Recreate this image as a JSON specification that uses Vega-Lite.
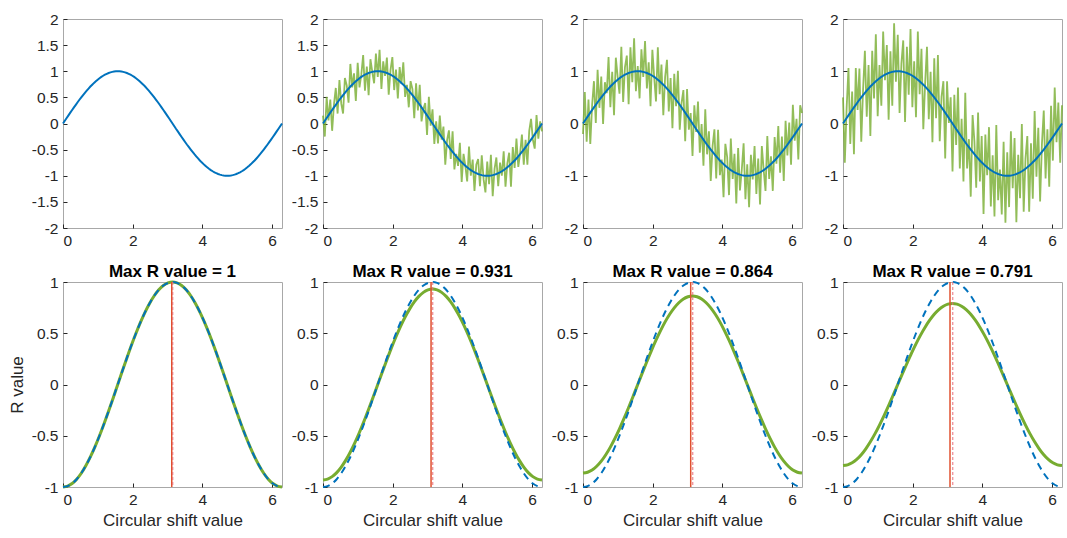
{
"$schema": "https://vega.github.io/schema/vega-lite/v6.json",
"autosize": {"type": "none"},
"padding": {"left": 63, "top": 19, "right": 1004, "bottom": 519},
"background": "white",
"config": {
  "font": "Liberation Sans",
  "view": {"stroke": "#A8A8A8", "strokeWidth": 1},
  "axis": {"grid": false, "domain": false, "tickColor": "#262626", "tickSize": -4, "labelFontSize": 15.5, "labelColor": "#262626", "labelFont": "Liberation Sans", "labelPadding": 9, "titleFont": "Liberation Sans", "titleFontSize": 17, "titleFontWeight": "normal", "titleColor": "#262626", "titlePadding": 5},
  "title": {"font": "Liberation Sans", "fontSize": 17, "fontWeight": "bold", "color": "#000000", "offset": -6}
},
"datasets": {
"top": [
{"x":0,"s":0,"n2":0.15,"n3":-0.2,"n4":0.5},
{"x":0.052,"s":0.052,"n2":-0.25,"n3":0.6,"n4":-0.75},
{"x":0.105,"s":0.105,"n2":0.51,"n3":-0.35,"n4":0.31},
{"x":0.157,"s":0.156,"n2":0.06,"n3":0.46,"n4":1.06},
{"x":0.209,"s":0.208,"n2":0.46,"n3":-0.39,"n4":-0.39},
{"x":0.262,"s":0.259,"n2":-0.14,"n3":0.36,"n4":0.61},
{"x":0.314,"s":0.309,"n2":0.36,"n3":0.81,"n4":-0.59},
{"x":0.367,"s":0.358,"n2":0.68,"n3":0.01,"n4":1.06},
{"x":0.419,"s":0.407,"n2":0.19,"n3":1.03,"n4":0.26},
{"x":0.471,"s":0.454,"n2":0.83,"n3":0.3,"n4":1.05},
{"x":0.524,"s":0.5,"n2":0.38,"n3":0.9,"n4":-0.35},
{"x":0.576,"s":0.545,"n2":0.19,"n3":-0.01,"n4":0.65},
{"x":0.628,"s":0.588,"n2":0.87,"n3":0.79,"n4":1.39},
{"x":0.681,"s":0.629,"n2":0.73,"n3":0.58,"n4":0.13},
{"x":0.733,"s":0.669,"n2":0.4,"n3":1.27,"n4":1.12},
{"x":0.785,"s":0.707,"n2":1.14,"n3":0.31,"n4":-0.24},
{"x":0.838,"s":0.743,"n2":0.69,"n3":0.99,"n4":1.39},
{"x":0.89,"s":0.777,"n2":0.96,"n3":0.16,"n4":0.48},
{"x":0.942,"s":0.809,"n2":0.43,"n3":1.26,"n4":1.71},
{"x":0.995,"s":0.839,"n2":1.16,"n3":0.89,"n4":0.14},
{"x":1.047,"s":0.866,"n2":0.69,"n3":0.57,"n4":1.12},
{"x":1.1,"s":0.891,"n2":0.94,"n3":1.47,"n4":0.34},
{"x":1.152,"s":0.914,"n2":1.31,"n3":0.41,"n4":1.76},
{"x":1.204,"s":0.934,"n2":0.63,"n3":1.08,"n4":0.83},
{"x":1.257,"s":0.951,"n2":1.09,"n3":1.3,"n4":1.5},
{"x":1.309,"s":0.966,"n2":0.54,"n3":0.37,"n4":0.07},
{"x":1.361,"s":0.978,"n2":1.23,"n3":1.46,"n4":1.38},
{"x":1.414,"s":0.988,"n2":0.99,"n3":0.79,"n4":0.34},
{"x":1.466,"s":0.995,"n2":0.77,"n3":1.63,"n4":1.92},
{"x":1.518,"s":0.999,"n2":1.34,"n3":0.62,"n4":0.8},
{"x":1.571,"s":1,"n2":0.89,"n3":1.1,"n4":1.7},
{"x":1.623,"s":0.999,"n2":1.41,"n3":0.48,"n4":0.2},
{"x":1.676,"s":0.995,"n2":0.66,"n3":1.42,"n4":1.15},
{"x":1.728,"s":0.988,"n2":1.19,"n3":0.89,"n4":1.59},
{"x":1.78,"s":0.978,"n2":0.91,"n3":1.58,"n4":0.03},
{"x":1.833,"s":0.966,"n2":1.26,"n3":0.67,"n4":1.47},
{"x":1.885,"s":0.951,"n2":0.55,"n3":1.17,"n4":0.55},
{"x":1.937,"s":0.934,"n2":1.02,"n3":0.33,"n4":1.81},
{"x":1.99,"s":0.914,"n2":1.27,"n3":1.41,"n4":0.31},
{"x":2.042,"s":0.891,"n2":0.64,"n3":0.89,"n4":1.19},
{"x":2.094,"s":0.866,"n2":1.03,"n3":0.42,"n4":0.12},
{"x":2.147,"s":0.839,"n2":0.48,"n3":1.46,"n4":1.76},
{"x":2.199,"s":0.809,"n2":1.08,"n3":0.56,"n4":0.56},
{"x":2.251,"s":0.777,"n2":0.76,"n3":1.13,"n4":1.43},
{"x":2.304,"s":0.743,"n2":1.17,"n3":0.16,"n4":-0.11},
{"x":2.356,"s":0.707,"n2":0.51,"n3":0.89,"n4":0.76},
{"x":2.409,"s":0.669,"n2":0.74,"n3":1.22,"n4":1.47},
{"x":2.461,"s":0.629,"n2":0.31,"n3":0.23,"n4":0.08},
{"x":2.513,"s":0.588,"n2":0.81,"n3":0.87,"n4":0.99},
{"x":2.566,"s":0.545,"n2":0.66,"n3":-0.09,"n4":-0.36},
{"x":2.618,"s":0.5,"n2":0.1,"n3":0.95,"n4":1.25},
{"x":2.67,"s":0.454,"n2":0.77,"n3":0.33,"n4":0.1},
{"x":2.723,"s":0.407,"n2":0.25,"n3":1.01,"n4":1.31},
{"x":2.775,"s":0.358,"n2":0.74,"n3":-0.12,"n4":-0.34},
{"x":2.827,"s":0.309,"n2":0.04,"n3":0.39,"n4":0.51},
{"x":2.88,"s":0.259,"n2":0.28,"n3":0.64,"n4":0.81},
{"x":2.932,"s":0.208,"n2":0.39,"n3":-0.34,"n4":-0.67},
{"x":2.985,"s":0.156,"n2":-0.22,"n3":0.66,"n4":0.81},
{"x":3.037,"s":0.105,"n2":0.51,"n3":-0.12,"n4":0.01},
{"x":3.089,"s":0.052,"n2":-0.04,"n3":0.2,"n4":0.5},
{"x":3.142,"s":0,"n2":0.27,"n3":-0.62,"n4":-0.92},
{"x":3.194,"s":-0.052,"n2":-0.39,"n3":0.35,"n4":0.55},
{"x":3.246,"s":-0.105,"n2":0.04,"n3":-0.16,"n4":-0.41},
{"x":3.299,"s":-0.156,"n2":-0.38,"n3":0.42,"n4":0.69},
{"x":3.351,"s":-0.208,"n2":0.15,"n3":-0.56,"n4":-0.86},
{"x":3.403,"s":-0.259,"n2":-0.31,"n3":-0.01,"n4":0.09},
{"x":3.456,"s":-0.309,"n2":-0.06,"n3":-0.81,"n4":-1.11},
{"x":3.508,"s":-0.358,"n2":-0.79,"n3":0.27,"n4":0.59},
{"x":3.56,"s":-0.407,"n2":-0.32,"n3":-0.59,"n4":-0.86},
{"x":3.613,"s":-0.454,"n2":-0.13,"n3":-0.15,"n4":-0.3},
{"x":3.665,"s":-0.5,"n2":-0.68,"n3":-1.1,"n4":-1.4},
{"x":3.718,"s":-0.545,"n2":-0.15,"n3":-0.43,"n4":0.16},
{"x":3.77,"s":-0.588,"n2":-0.88,"n3":-0.11,"n4":-0.34},
{"x":3.822,"s":-0.629,"n2":-0.58,"n3":-1.05,"n4":-1.23},
{"x":3.875,"s":-0.669,"n2":-0.81,"n3":-0.12,"n4":0.21},
{"x":3.927,"s":-0.707,"n2":-0.37,"n3":-0.99,"n4":-1.11},
{"x":3.979,"s":-0.743,"n2":-1.12,"n3":-0.69,"n4":-0.24},
{"x":4.032,"s":-0.777,"n2":-0.58,"n3":-1.41,"n4":-1.73},
{"x":4.084,"s":-0.809,"n2":-0.81,"n3":-0.39,"n4":-0.21},
{"x":4.136,"s":-0.839,"n2":-1.11,"n3":-0.64,"n4":-0.99},
{"x":4.189,"s":-0.866,"n2":-0.44,"n3":-1.37,"n4":-0.07},
{"x":4.241,"s":-0.891,"n2":-1.0,"n3":-0.29,"n4":-1.59},
{"x":4.294,"s":-0.914,"n2":-0.69,"n3":-1.06,"n4":-0.61},
{"x":4.346,"s":-0.934,"n2":-1.29,"n3":-0.58,"n4":-1.78},
{"x":4.398,"s":-0.951,"n2":-0.79,"n3":-1.53,"n4":-0.03},
{"x":4.451,"s":-0.966,"n2":-0.68,"n3":-0.47,"n4":-1.47},
{"x":4.503,"s":-0.978,"n2":-1.2,"n3":-1.28,"n4":-0.88},
{"x":4.555,"s":-0.988,"n2":-0.61,"n3":-0.89,"n4":-1.74},
{"x":4.608,"s":-0.995,"n2":-1.07,"n3":-0.38,"n4":-0.35},
{"x":4.66,"s":-0.999,"n2":-1.32,"n3":-1.45,"n4":-1.9},
{"x":4.712,"s":-1,"n2":-0.73,"n3":-0.78,"n4":-0.55},
{"x":4.765,"s":-0.999,"n2":-1.16,"n3":-1.6,"n4":-1.6},
{"x":4.817,"s":-0.995,"n2":-0.6,"n3":-0.6,"n4":-0.15},
{"x":4.869,"s":-0.988,"n2":-1.39,"n3":-1.07,"n4":-1.24},
{"x":4.922,"s":-0.978,"n2":-0.87,"n3":-0.43,"n4":-0.28},
{"x":4.974,"s":-0.966,"n2":-0.65,"n3":-1.35,"n4":-1.89},
{"x":5.027,"s":-0.951,"n2":-1.2,"n3":-0.67,"n4":-0.6},
{"x":5.079,"s":-0.934,"n2":-0.75,"n3":-1.55,"n4":-1.43},
{"x":5.131,"s":-0.914,"n2":-1.0,"n3":-0.43,"n4":-0.01},
{"x":5.184,"s":-0.891,"n2":-0.53,"n3":-0.89,"n4":-1.69},
{"x":5.236,"s":-0.866,"n2":-1.21,"n3":-1.29,"n4":-0.67},
{"x":5.288,"s":-0.839,"n2":-0.77,"n3":-0.24,"n4":-0.24},
{"x":5.341,"s":-0.809,"n2":-0.56,"n3":-1.06,"n4":-1.69},
{"x":5.393,"s":-0.777,"n2":-1.21,"n3":-0.63,"n4":-0.38},
{"x":5.445,"s":-0.743,"n2":-0.45,"n3":-1.29,"n4":-1.44},
{"x":5.498,"s":-0.707,"n2":-0.85,"n3":-0.26,"n4":0.24},
{"x":5.55,"s":-0.669,"n2":-0.29,"n3":-0.77,"n4":-1.02},
{"x":5.603,"s":-0.629,"n2":-0.83,"n3":-0.05,"n4":-0.08},
{"x":5.655,"s":-0.588,"n2":-0.57,"n3":-0.94,"n4":-1.49},
{"x":5.707,"s":-0.545,"n2":-0.21,"n3":-0.25,"n4":-0.4},
{"x":5.76,"s":-0.5,"n2":-0.79,"n3":-1.1,"n4":0.25},
{"x":5.812,"s":-0.454,"n2":-0.31,"n3":0.05,"n4":-1.05},
{"x":5.864,"s":-0.407,"n2":-0.79,"n3":-0.61,"n4":-0.11},
{"x":5.917,"s":-0.358,"n2":-0.14,"n3":0.02,"n4":-1.21},
{"x":5.969,"s":-0.309,"n2":0.09,"n3":-0.79,"n4":0.34},
{"x":6.021,"s":-0.259,"n2":-0.31,"n3":0.36,"n4":-0.71},
{"x":6.074,"s":-0.208,"n2":-0.48,"n3":-0.33,"n4":0.69},
{"x":6.126,"s":-0.156,"n2":0.16,"n3":0.09,"n4":-0.36},
{"x":6.178,"s":-0.105,"n2":-0.29,"n3":-0.69,"n4":0.4},
{"x":6.231,"s":-0.052,"n2":0.04,"n3":0.35,"n4":-0.75},
{"x":6.283,"s":0,"n2":-0.15,"n3":0.2,"n4":0.35}
],
"bot": [
{"x":0,"b":-1,"g2":-0.931,"g3":-0.864,"g4":-0.791},
{"x":0.131,"b":-0.991,"g2":-0.923,"g3":-0.856,"g4":-0.784},
{"x":0.262,"b":-0.966,"g2":-0.899,"g3":-0.835,"g4":-0.764},
{"x":0.393,"b":-0.924,"g2":-0.86,"g3":-0.798,"g4":-0.731},
{"x":0.524,"b":-0.866,"g2":-0.806,"g3":-0.748,"g4":-0.685},
{"x":0.654,"b":-0.793,"g2":-0.738,"g3":-0.685,"g4":-0.627},
{"x":0.785,"b":-0.707,"g2":-0.658,"g3":-0.611,"g4":-0.559},
{"x":0.916,"b":-0.609,"g2":-0.567,"g3":-0.526,"g4":-0.482},
{"x":1.047,"b":-0.5,"g2":-0.466,"g3":-0.432,"g4":-0.396},
{"x":1.178,"b":-0.383,"g2":-0.357,"g3":-0.331,"g4":-0.303},
{"x":1.309,"b":-0.259,"g2":-0.241,"g3":-0.224,"g4":-0.205},
{"x":1.44,"b":-0.131,"g2":-0.122,"g3":-0.113,"g4":-0.104},
{"x":1.571,"b":0,"g2":0,"g3":0,"g4":0},
{"x":1.702,"b":0.131,"g2":0.122,"g3":0.113,"g4":0.104},
{"x":1.833,"b":0.259,"g2":0.241,"g3":0.224,"g4":0.205},
{"x":1.963,"b":0.383,"g2":0.357,"g3":0.331,"g4":0.303},
{"x":2.094,"b":0.5,"g2":0.466,"g3":0.432,"g4":0.396},
{"x":2.225,"b":0.609,"g2":0.567,"g3":0.526,"g4":0.482},
{"x":2.356,"b":0.707,"g2":0.658,"g3":0.611,"g4":0.559},
{"x":2.487,"b":0.793,"g2":0.738,"g3":0.685,"g4":0.627},
{"x":2.618,"b":0.866,"g2":0.806,"g3":0.748,"g4":0.685},
{"x":2.749,"b":0.924,"g2":0.86,"g3":0.798,"g4":0.731},
{"x":2.88,"b":0.966,"g2":0.899,"g3":0.835,"g4":0.764},
{"x":3.011,"b":0.991,"g2":0.923,"g3":0.856,"g4":0.784},
{"x":3.142,"b":1,"g2":0.931,"g3":0.864,"g4":0.791},
{"x":3.272,"b":0.991,"g2":0.923,"g3":0.856,"g4":0.784},
{"x":3.403,"b":0.966,"g2":0.899,"g3":0.835,"g4":0.764},
{"x":3.534,"b":0.924,"g2":0.86,"g3":0.798,"g4":0.731},
{"x":3.665,"b":0.866,"g2":0.806,"g3":0.748,"g4":0.685},
{"x":3.796,"b":0.793,"g2":0.738,"g3":0.685,"g4":0.627},
{"x":3.927,"b":0.707,"g2":0.658,"g3":0.611,"g4":0.559},
{"x":4.058,"b":0.609,"g2":0.567,"g3":0.526,"g4":0.482},
{"x":4.189,"b":0.5,"g2":0.466,"g3":0.432,"g4":0.396},
{"x":4.32,"b":0.383,"g2":0.357,"g3":0.331,"g4":0.303},
{"x":4.451,"b":0.259,"g2":0.241,"g3":0.224,"g4":0.205},
{"x":4.581,"b":0.131,"g2":0.122,"g3":0.113,"g4":0.104},
{"x":4.712,"b":0,"g2":0,"g3":0,"g4":0},
{"x":4.843,"b":-0.131,"g2":-0.122,"g3":-0.113,"g4":-0.104},
{"x":4.974,"b":-0.259,"g2":-0.241,"g3":-0.224,"g4":-0.205},
{"x":5.105,"b":-0.383,"g2":-0.357,"g3":-0.331,"g4":-0.303},
{"x":5.236,"b":-0.5,"g2":-0.466,"g3":-0.432,"g4":-0.396},
{"x":5.367,"b":-0.609,"g2":-0.567,"g3":-0.526,"g4":-0.482},
{"x":5.498,"b":-0.707,"g2":-0.658,"g3":-0.611,"g4":-0.559},
{"x":5.629,"b":-0.793,"g2":-0.738,"g3":-0.685,"g4":-0.627},
{"x":5.76,"b":-0.866,"g2":-0.806,"g3":-0.748,"g4":-0.685},
{"x":5.89,"b":-0.924,"g2":-0.86,"g3":-0.798,"g4":-0.731},
{"x":6.021,"b":-0.966,"g2":-0.899,"g3":-0.835,"g4":-0.764},
{"x":6.152,"b":-0.991,"g2":-0.923,"g3":-0.856,"g4":-0.784},
{"x":6.283,"b":-1,"g2":-0.931,"g3":-0.864,"g4":-0.791}
],
"peaks": [
{"p":1,"k":"solid","x":3.12},{"p":1,"k":"dash","x":3.15},
{"p":2,"k":"solid","x":3.1},{"p":2,"k":"dash","x":3.15},
{"p":3,"k":"solid","x":3.09},{"p":3,"k":"dash","x":3.15},
{"p":4,"k":"solid","x":3.07},{"p":4,"k":"dash","x":3.15}
]
},
"columns": 4,
"spacing": {"row": 54, "column": 41},
"bounds": "flush",
"concat": [
{"width": 219, "height": 209, "data": {"name": "top"},
 "layer": [
  {"mark": {"type": "line", "color": "#0072BD", "strokeWidth": 2},
   "encoding": {"x": {"field": "x", "type": "quantitative", "scale": {"domain": [0, 6.2832], "nice": false, "zero": false}, "axis": {"values": [0, 2, 4, 6], "title": null}},
                "y": {"field": "s", "type": "quantitative", "scale": {"domain": [-2, 2], "nice": false}, "axis": {"values": [-2, -1.5, -1, -0.5, 0, 0.5, 1, 1.5, 2], "title": null, "labelExpr": "datum.value + ''"}}}}
 ]},
{"width": 219, "height": 209, "data": {"name": "top"},
 "layer": [
  {"mark": {"type": "line", "color": "#77AC30", "strokeWidth": 1.8, "opacity": 0.8},
   "encoding": {"x": {"field": "x", "type": "quantitative", "scale": {"domain": [0, 6.2832], "nice": false, "zero": false}, "axis": {"values": [0, 2, 4, 6], "title": null}},
                "y": {"field": "n2", "type": "quantitative", "scale": {"domain": [-2, 2], "nice": false}, "axis": {"values": [-2, -1.5, -1, -0.5, 0, 0.5, 1, 1.5, 2], "title": null, "labelExpr": "datum.value + ''"}}}},
  {"mark": {"type": "line", "color": "#0072BD", "strokeWidth": 2},
   "encoding": {"x": {"field": "x", "type": "quantitative", "scale": {"domain": [0, 6.2832], "nice": false, "zero": false}, "axis": {"values": [0, 2, 4, 6], "title": null}},
                "y": {"field": "s", "type": "quantitative", "scale": {"domain": [-2, 2], "nice": false}, "axis": {"values": [-2, -1.5, -1, -0.5, 0, 0.5, 1, 1.5, 2], "title": null, "labelExpr": "datum.value + ''"}}}}
 ]},
{"width": 219, "height": 209, "data": {"name": "top"},
 "layer": [
  {"mark": {"type": "line", "color": "#77AC30", "strokeWidth": 1.8, "opacity": 0.8},
   "encoding": {"x": {"field": "x", "type": "quantitative", "scale": {"domain": [0, 6.2832], "nice": false, "zero": false}, "axis": {"values": [0, 2, 4, 6], "title": null}},
                "y": {"field": "n3", "type": "quantitative", "scale": {"domain": [-2, 2], "nice": false}, "axis": {"values": [-2, -1, 0, 1, 2], "title": null, "labelExpr": "datum.value + ''"}}}},
  {"mark": {"type": "line", "color": "#0072BD", "strokeWidth": 2},
   "encoding": {"x": {"field": "x", "type": "quantitative", "scale": {"domain": [0, 6.2832], "nice": false, "zero": false}, "axis": {"values": [0, 2, 4, 6], "title": null}},
                "y": {"field": "s", "type": "quantitative", "scale": {"domain": [-2, 2], "nice": false}, "axis": {"values": [-2, -1, 0, 1, 2], "title": null, "labelExpr": "datum.value + ''"}}}}
 ]},
{"width": 219, "height": 209, "data": {"name": "top"},
 "layer": [
  {"mark": {"type": "line", "color": "#77AC30", "strokeWidth": 1.8, "opacity": 0.8},
   "encoding": {"x": {"field": "x", "type": "quantitative", "scale": {"domain": [0, 6.2832], "nice": false, "zero": false}, "axis": {"values": [0, 2, 4, 6], "title": null}},
                "y": {"field": "n4", "type": "quantitative", "scale": {"domain": [-2, 2], "nice": false}, "axis": {"values": [-2, -1, 0, 1, 2], "title": null, "labelExpr": "datum.value + ''"}}}},
  {"mark": {"type": "line", "color": "#0072BD", "strokeWidth": 2},
   "encoding": {"x": {"field": "x", "type": "quantitative", "scale": {"domain": [0, 6.2832], "nice": false, "zero": false}, "axis": {"values": [0, 2, 4, 6], "title": null}},
                "y": {"field": "s", "type": "quantitative", "scale": {"domain": [-2, 2], "nice": false}, "axis": {"values": [-2, -1, 0, 1, 2], "title": null, "labelExpr": "datum.value + ''"}}}}
 ]},
{"width": 219, "height": 205, "title": "Max R value = 1",
 "layer": [
  {"data": {"name": "bot"}, "mark": {"type": "line", "color": "#77AC30", "strokeWidth": 3, "interpolate": "monotone"},
   "encoding": {"x": {"field": "x", "type": "quantitative", "scale": {"domain": [0, 6.2832], "nice": false, "zero": false}, "axis": {"values": [0, 2, 4, 6], "title": "Circular shift value"}},
                "y": {"field": "b", "type": "quantitative", "scale": {"domain": [-1, 1], "nice": false}, "axis": {"values": [-1, -0.5, 0, 0.5, 1], "title": "R value", "titlePadding": 5, "labelExpr": "datum.value + ''"}}}},
  {"data": {"name": "bot"}, "mark": {"type": "line", "color": "#0072BD", "strokeWidth": 2, "strokeDash": [7, 5], "interpolate": "monotone"},
   "encoding": {"x": {"field": "x", "type": "quantitative", "scale": {"domain": [0, 6.2832], "nice": false, "zero": false}, "axis": {"values": [0, 2, 4, 6], "title": "Circular shift value"}},
                "y": {"field": "b", "type": "quantitative", "scale": {"domain": [-1, 1], "nice": false}, "axis": {"values": [-1, -0.5, 0, 0.5, 1], "title": "R value", "titlePadding": 5, "labelExpr": "datum.value + ''"}}}},
  {"data": {"name": "peaks"}, "transform": [{"filter": "datum.p == 1 && datum.k == 'solid'"}], "mark": {"type": "rule", "color": "#E0502E", "strokeWidth": 1.5},
   "encoding": {"x": {"field": "x", "type": "quantitative", "scale": {"domain": [0, 6.2832], "nice": false, "zero": false}, "axis": {"values": [0, 2, 4, 6], "title": "Circular shift value"}}}},
  {"data": {"name": "peaks"}, "transform": [{"filter": "datum.p == 1 && datum.k == 'dash'"}], "mark": {"type": "rule", "color": "#E8707A", "strokeWidth": 1, "strokeDash": [3, 2]},
   "encoding": {"x": {"field": "x", "type": "quantitative", "scale": {"domain": [0, 6.2832], "nice": false, "zero": false}, "axis": {"values": [0, 2, 4, 6], "title": "Circular shift value"}}}}
 ]},
{"width": 219, "height": 205, "title": "Max R value = 0.931",
 "layer": [
  {"data": {"name": "bot"}, "mark": {"type": "line", "color": "#77AC30", "strokeWidth": 3, "interpolate": "monotone"},
   "encoding": {"x": {"field": "x", "type": "quantitative", "scale": {"domain": [0, 6.2832], "nice": false, "zero": false}, "axis": {"values": [0, 2, 4, 6], "title": "Circular shift value"}},
                "y": {"field": "g2", "type": "quantitative", "scale": {"domain": [-1, 1], "nice": false}, "axis": {"values": [-1, -0.5, 0, 0.5, 1], "title": null, "labelExpr": "datum.value + ''"}}}},
  {"data": {"name": "bot"}, "mark": {"type": "line", "color": "#0072BD", "strokeWidth": 2, "strokeDash": [7, 5], "interpolate": "monotone"},
   "encoding": {"x": {"field": "x", "type": "quantitative", "scale": {"domain": [0, 6.2832], "nice": false, "zero": false}, "axis": {"values": [0, 2, 4, 6], "title": "Circular shift value"}},
                "y": {"field": "b", "type": "quantitative", "scale": {"domain": [-1, 1], "nice": false}, "axis": {"values": [-1, -0.5, 0, 0.5, 1], "title": null, "labelExpr": "datum.value + ''"}}}},
  {"data": {"name": "peaks"}, "transform": [{"filter": "datum.p == 2 && datum.k == 'solid'"}], "mark": {"type": "rule", "color": "#E0502E", "strokeWidth": 1.5},
   "encoding": {"x": {"field": "x", "type": "quantitative", "scale": {"domain": [0, 6.2832], "nice": false, "zero": false}, "axis": {"values": [0, 2, 4, 6], "title": "Circular shift value"}}}},
  {"data": {"name": "peaks"}, "transform": [{"filter": "datum.p == 2 && datum.k == 'dash'"}], "mark": {"type": "rule", "color": "#E8707A", "strokeWidth": 1, "strokeDash": [3, 2]},
   "encoding": {"x": {"field": "x", "type": "quantitative", "scale": {"domain": [0, 6.2832], "nice": false, "zero": false}, "axis": {"values": [0, 2, 4, 6], "title": "Circular shift value"}}}}
 ]},
{"width": 219, "height": 205, "title": "Max R value = 0.864",
 "layer": [
  {"data": {"name": "bot"}, "mark": {"type": "line", "color": "#77AC30", "strokeWidth": 3, "interpolate": "monotone"},
   "encoding": {"x": {"field": "x", "type": "quantitative", "scale": {"domain": [0, 6.2832], "nice": false, "zero": false}, "axis": {"values": [0, 2, 4, 6], "title": "Circular shift value"}},
                "y": {"field": "g3", "type": "quantitative", "scale": {"domain": [-1, 1], "nice": false}, "axis": {"values": [-1, -0.5, 0, 0.5, 1], "title": null, "labelExpr": "datum.value + ''"}}}},
  {"data": {"name": "bot"}, "mark": {"type": "line", "color": "#0072BD", "strokeWidth": 2, "strokeDash": [7, 5], "interpolate": "monotone"},
   "encoding": {"x": {"field": "x", "type": "quantitative", "scale": {"domain": [0, 6.2832], "nice": false, "zero": false}, "axis": {"values": [0, 2, 4, 6], "title": "Circular shift value"}},
                "y": {"field": "b", "type": "quantitative", "scale": {"domain": [-1, 1], "nice": false}, "axis": {"values": [-1, -0.5, 0, 0.5, 1], "title": null, "labelExpr": "datum.value + ''"}}}},
  {"data": {"name": "peaks"}, "transform": [{"filter": "datum.p == 3 && datum.k == 'solid'"}], "mark": {"type": "rule", "color": "#E0502E", "strokeWidth": 1.5},
   "encoding": {"x": {"field": "x", "type": "quantitative", "scale": {"domain": [0, 6.2832], "nice": false, "zero": false}, "axis": {"values": [0, 2, 4, 6], "title": "Circular shift value"}}}},
  {"data": {"name": "peaks"}, "transform": [{"filter": "datum.p == 3 && datum.k == 'dash'"}], "mark": {"type": "rule", "color": "#E8707A", "strokeWidth": 1, "strokeDash": [3, 2]},
   "encoding": {"x": {"field": "x", "type": "quantitative", "scale": {"domain": [0, 6.2832], "nice": false, "zero": false}, "axis": {"values": [0, 2, 4, 6], "title": "Circular shift value"}}}}
 ]},
{"width": 219, "height": 205, "title": "Max R value = 0.791",
 "layer": [
  {"data": {"name": "bot"}, "mark": {"type": "line", "color": "#77AC30", "strokeWidth": 3, "interpolate": "monotone"},
   "encoding": {"x": {"field": "x", "type": "quantitative", "scale": {"domain": [0, 6.2832], "nice": false, "zero": false}, "axis": {"values": [0, 2, 4, 6], "title": "Circular shift value"}},
                "y": {"field": "g4", "type": "quantitative", "scale": {"domain": [-1, 1], "nice": false}, "axis": {"values": [-1, -0.5, 0, 0.5, 1], "title": null, "labelExpr": "datum.value + ''"}}}},
  {"data": {"name": "bot"}, "mark": {"type": "line", "color": "#0072BD", "strokeWidth": 2, "strokeDash": [7, 5], "interpolate": "monotone"},
   "encoding": {"x": {"field": "x", "type": "quantitative", "scale": {"domain": [0, 6.2832], "nice": false, "zero": false}, "axis": {"values": [0, 2, 4, 6], "title": "Circular shift value"}},
                "y": {"field": "b", "type": "quantitative", "scale": {"domain": [-1, 1], "nice": false}, "axis": {"values": [-1, -0.5, 0, 0.5, 1], "title": null, "labelExpr": "datum.value + ''"}}}},
  {"data": {"name": "peaks"}, "transform": [{"filter": "datum.p == 4 && datum.k == 'solid'"}], "mark": {"type": "rule", "color": "#E0502E", "strokeWidth": 1.5},
   "encoding": {"x": {"field": "x", "type": "quantitative", "scale": {"domain": [0, 6.2832], "nice": false, "zero": false}, "axis": {"values": [0, 2, 4, 6], "title": "Circular shift value"}}}},
  {"data": {"name": "peaks"}, "transform": [{"filter": "datum.p == 4 && datum.k == 'dash'"}], "mark": {"type": "rule", "color": "#E8707A", "strokeWidth": 1, "strokeDash": [3, 2]},
   "encoding": {"x": {"field": "x", "type": "quantitative", "scale": {"domain": [0, 6.2832], "nice": false, "zero": false}, "axis": {"values": [0, 2, 4, 6], "title": "Circular shift value"}}}}
 ]}
]
}
